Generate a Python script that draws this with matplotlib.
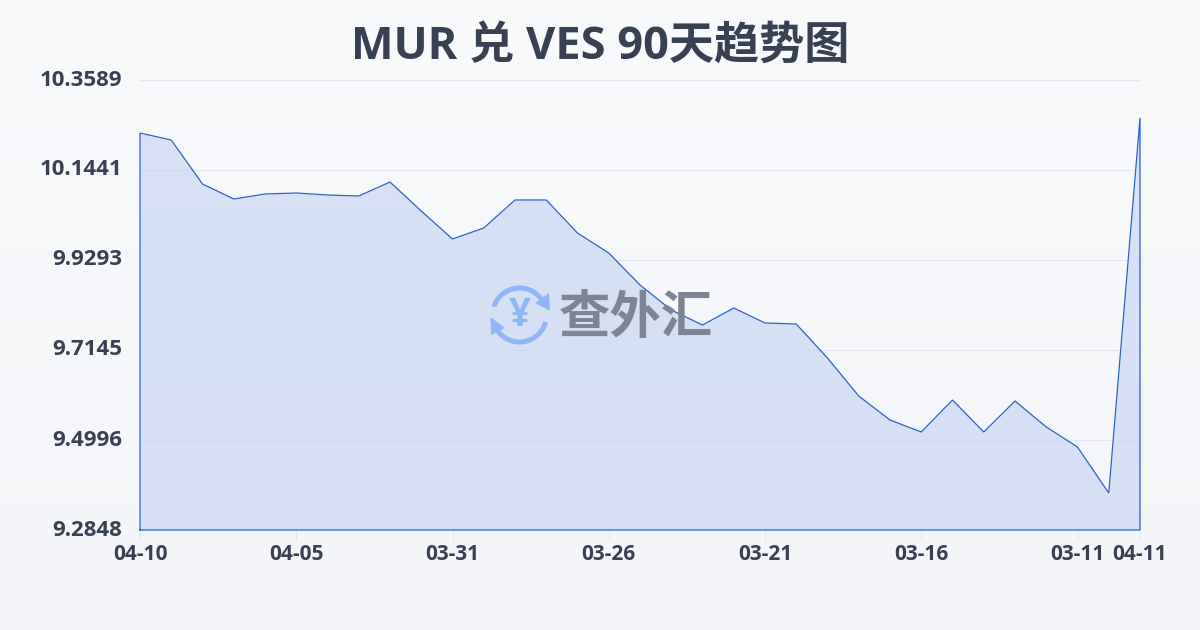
import numpy as np
import matplotlib
matplotlib.use('Agg')
import matplotlib.pyplot as plt
from matplotlib.patches import Arc, Polygon

plt.rcParams['font.family'] = ['Open Sans', 'Noto Sans CJK SC', 'DejaVu Sans']

title = 'MUR 兑 VES 90天趋势图'
y_ticks = [9.2848, 9.4996, 9.7145, 9.9293, 10.1441, 10.3589]
y_labels = ['9.2848', '9.4996', '9.7145', '9.9293', '10.1441', '10.3589']
x_pos = [0, 5, 10, 15, 20, 25, 30, 32]
x_labels = ['04-10', '04-05', '03-31', '03-26', '03-21', '03-16', '03-11', '04-11']
rates = [10.2324, 10.2157, 10.1107, 10.0749, 10.0868, 10.0892, 10.0844, 10.0820,
         10.1154, 10.0462, 9.9794, 10.0056, 10.0725, 10.0725, 9.9937, 9.9460,
         9.8696, 9.8099, 9.7741, 9.8147, 9.7789, 9.7765, 9.6953, 9.6046,
         9.5474, 9.5187, 9.5951, 9.5187, 9.5927, 9.5307, 9.4829, 9.3731, 10.2682]

W, H = 1200, 630
fig = plt.figure(figsize=(W / 100, H / 100), dpi=100)

# page gradient
bg = fig.add_axes([0, 0, 1, 1], zorder=0)
bg.imshow(np.linspace(0, 1, 256).reshape(-1, 1), aspect='auto', extent=[0, W, H, 0],
          cmap=matplotlib.colors.LinearSegmentedColormap.from_list('p', ['#f9fafc', '#f3f5f8']))
bg.set_axis_off()

ax = fig.add_axes([140 / W, 1 - 530 / H, 1000 / W, 450 / H], zorder=1)
ax.patch.set_alpha(0)
xs = np.arange(len(rates))
ax.set_xlim(0, 32)
ax.set_ylim(y_ticks[0], y_ticks[-1])
ax.set_yticks(y_ticks, y_labels)
ax.set_xticks(x_pos, x_labels)
ax.grid(axis='y', color='#e3e6ee', lw=0.8)
ax.set_axisbelow(True)
for s in ax.spines.values():
    s.set_visible(False)
ax.tick_params(axis='y', length=0, pad=13, labelsize=16, labelcolor='#374151')
ax.tick_params(axis='x', length=7, width=0.7, color='#e3e6ee', pad=3, labelsize=15, labelcolor='#374151')
for t in ax.get_xticklabels():
    t.set_fontweight('bold')
for t in ax.get_yticklabels():
    t.set_fontweight('bold')
    t.set_verticalalignment('center')

ax.fill_between(xs, rates, y_ticks[0], color='#c5d3f3', alpha=0.64, lw=0, zorder=2)
ox = np.concatenate([[xs[0]], xs, [xs[-1], xs[0]]])
oy = np.concatenate([[y_ticks[0]], rates, [y_ticks[0], y_ticks[0]]])
ax.plot(ox, oy, color='#2f62c8', lw=0.9, clip_on=False, zorder=4, solid_joinstyle='miter')

fig.text(0.5, 1 - 47 / H, title, ha='center', va='center', fontsize=32.5, fontweight='bold', color='#374151')

# watermark, drawn in page pixels
wm = fig.add_axes([0, 0, 1, 1], zorder=3)
wm.set_xlim(0, W)
wm.set_ylim(H, 0)
wm.set_axis_off()
wm.patch.set_alpha(0)
blue = '#8fb6f8'
cx, cy, r = 519.5, 315, 27
wm.add_patch(Arc((cx, cy), 2 * r, 2 * r, theta1=198, theta2=325, color=blue, lw=3.6))
wm.add_patch(Arc((cx, cy), 2 * r, 2 * r, theta1=15, theta2=150, color=blue, lw=3.6))
wm.add_patch(Polygon([[549, 293], [550, 311], [535, 303]], color=blue, lw=0))
wm.add_patch(Polygon([[490.5, 317], [491, 335], [505, 328]], color=blue, lw=0))
wm.text(cx, cy, '¥', ha='center', va='center', fontsize=28, fontweight='bold', color=blue,
        family=['Open Sans'])
wm.text(636, 318, '查外汇', ha='center', va='center', fontsize=37, fontweight='bold', color='#7d8494',
        family=['Noto Sans CJK SC'])

fig.savefig('out.png', dpi=100)
